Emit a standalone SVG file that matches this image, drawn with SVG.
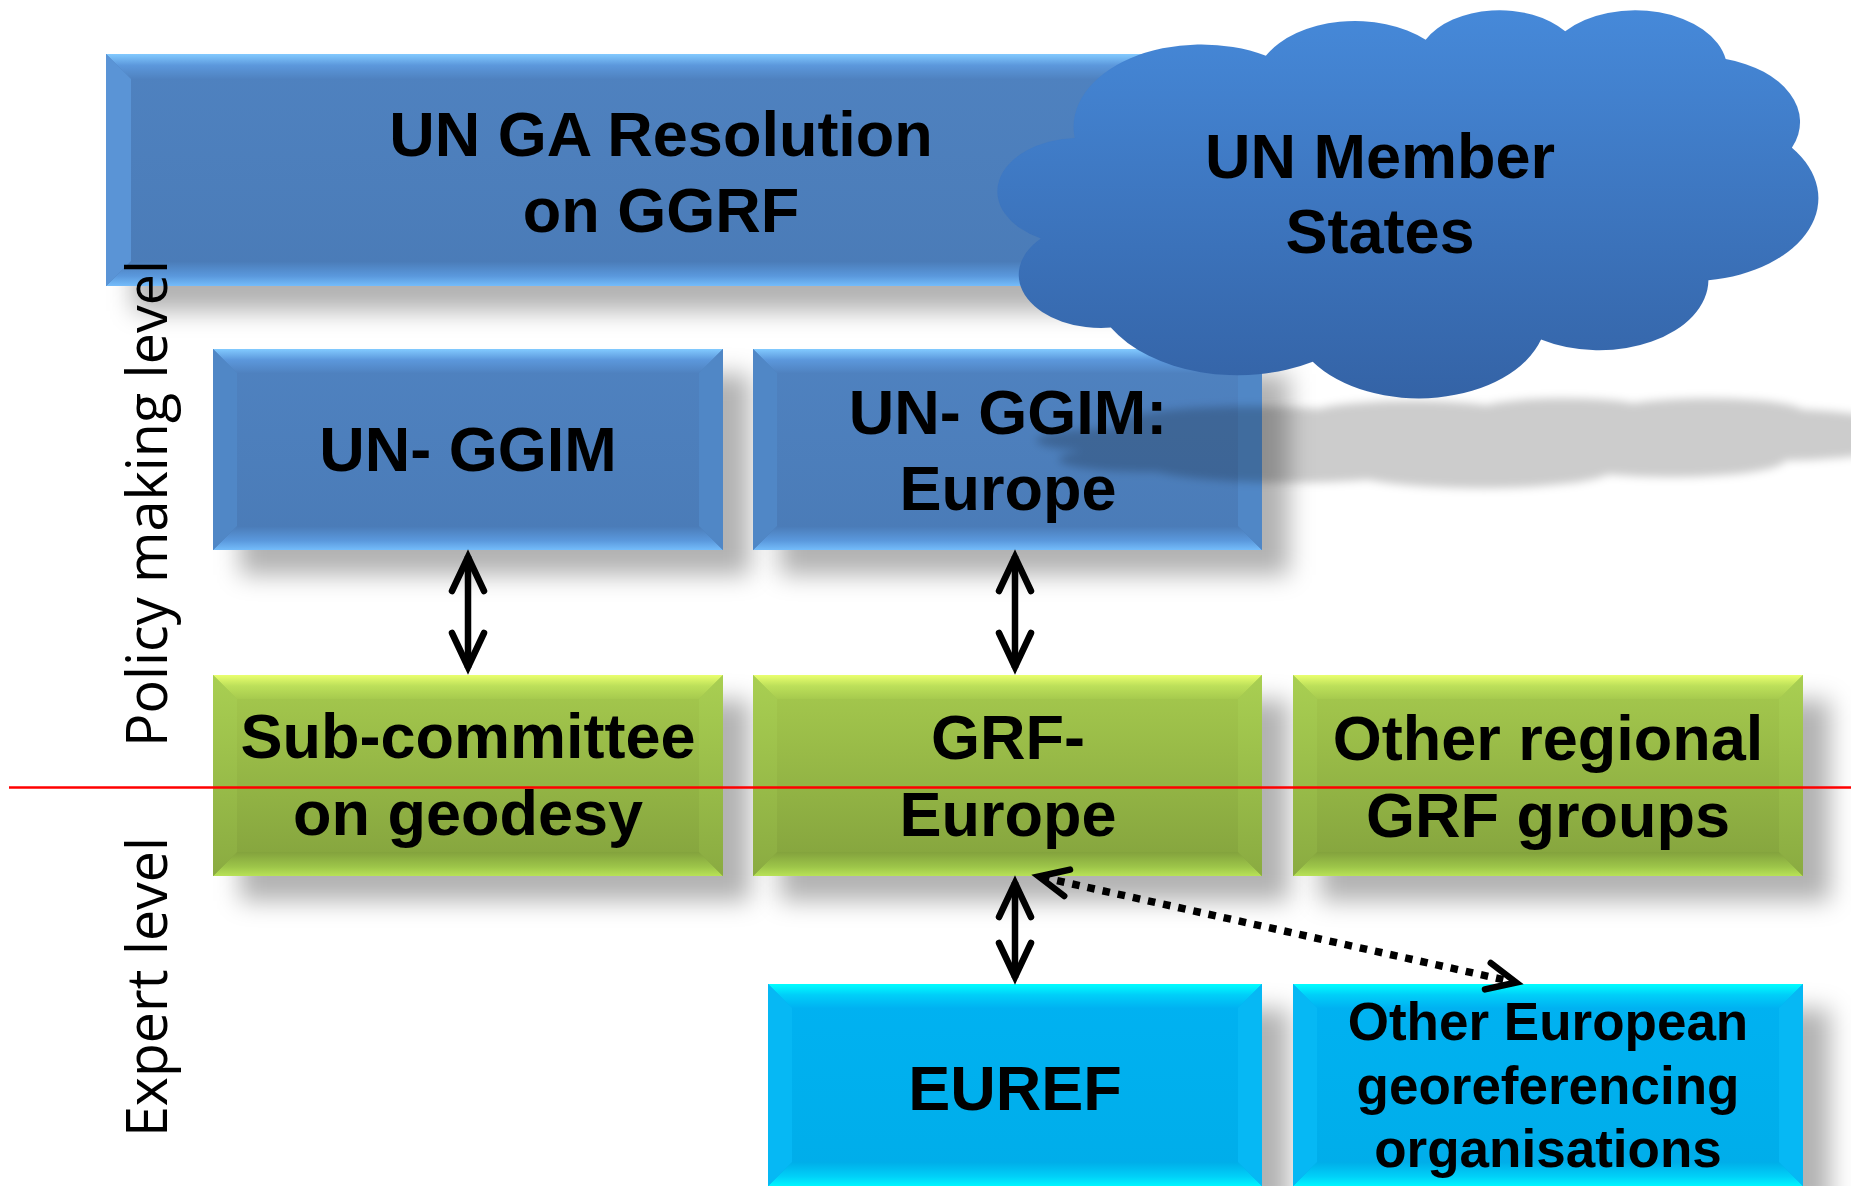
<svg xmlns="http://www.w3.org/2000/svg" xmlns:xlink="http://www.w3.org/1999/xlink" width="1851" height="1186" viewBox="0 0 1851 1186">
<defs>
  <linearGradient id="bFace" x1="0" y1="0" x2="0" y2="1"><stop offset="0" stop-color="#4f82c0"/><stop offset="1" stop-color="#4a7bb7"/></linearGradient>
  <linearGradient id="bTop" x1="0" y1="0" x2="0" y2="1"><stop offset="0" stop-color="#82caff"/><stop offset="0.45" stop-color="#5c98dc"/><stop offset="1" stop-color="#4f82c0"/></linearGradient>
  <linearGradient id="bBot" x1="0" y1="0" x2="0" y2="1"><stop offset="0" stop-color="#4a7bb7"/><stop offset="0.6" stop-color="#5a98dc"/><stop offset="1" stop-color="#74bcfa"/></linearGradient>
  <linearGradient id="gFace" x1="0" y1="0" x2="0" y2="1"><stop offset="0" stop-color="#a6ca4e"/><stop offset="1" stop-color="#83a23d"/></linearGradient>
  <linearGradient id="gTop" x1="0" y1="0" x2="0" y2="1"><stop offset="0" stop-color="#eaff6e"/><stop offset="0.45" stop-color="#bde05a"/><stop offset="1" stop-color="#a6ca4e"/></linearGradient>
  <linearGradient id="gBot" x1="0" y1="0" x2="0" y2="1"><stop offset="0" stop-color="#83a23d"/><stop offset="0.6" stop-color="#9cc449"/><stop offset="1" stop-color="#b8e256"/></linearGradient>
  <linearGradient id="gSide" x1="0" y1="0" x2="0" y2="1"><stop offset="0" stop-color="#a9cf52"/><stop offset="1" stop-color="#8aab41"/></linearGradient>
  <linearGradient id="cFace" x1="0" y1="0" x2="0" y2="1"><stop offset="0" stop-color="#00b2f2"/><stop offset="1" stop-color="#00ade9"/></linearGradient>
  <linearGradient id="cTop" x1="0" y1="0" x2="0" y2="1"><stop offset="0" stop-color="#00ffff"/><stop offset="0.45" stop-color="#00cff9"/><stop offset="1" stop-color="#00b2f2"/></linearGradient>
  <linearGradient id="cBot" x1="0" y1="0" x2="0" y2="1"><stop offset="0" stop-color="#00ade9"/><stop offset="0.6" stop-color="#00d0f8"/><stop offset="1" stop-color="#00f6ff"/></linearGradient>
  <linearGradient id="cloudFill" x1="0" y1="0" x2="0" y2="1"><stop offset="0" stop-color="#4689d9"/><stop offset="1" stop-color="#3463a6"/></linearGradient>
  <filter id="sh" x="-20%" y="-40%" width="140%" height="180%"><feGaussianBlur stdDeviation="12"/></filter>
  <filter id="csh" x="-10%" y="-60%" width="120%" height="220%"><feGaussianBlur stdDeviation="4"/></filter>
  <path id="cloudPath" d="M 3900 14370 A 6753 9190 0 0 1 14005 5202 A 5333 7267 0 0 1 22455 3430 A 4365 5945 0 0 1 29833 2479 A 4857 6595 0 0 1 38318 5574 A 5333 7273 0 0 1 41819 15458 A 6775 9220 0 0 1 37405 30201 A 5785 7867 0 0 1 28557 36811 A 6752 9215 0 0 1 16483 39266 A 7720 10543 0 0 1 5806 35477 A 4360 5918 0 0 1 2115 25555 A 4345 5945 0 0 1 3900 14370 Z"/>
  <style>
    .bf{fill:url(#bFace)} .bt{fill:url(#bTop)} .bb{fill:url(#bBot)} .bs{fill:#5087c6}
    .gf{fill:url(#gFace)} .gt{fill:url(#gTop)} .gb{fill:url(#gBot)} .gs{fill:url(#gSide)}
    .cf{fill:url(#cFace)} .ct{fill:url(#cTop)} .cb{fill:url(#cBot)} .cs{fill:#06b8f4}
    .shadow{fill:#000;fill-opacity:0.3;filter:url(#sh)}
    .lbl{font-family:"Liberation Sans",Arial,sans-serif;font-weight:bold;font-size:63px;fill:#000;text-anchor:middle}
    .lbls{font-size:53px}
    .side{font-family:"Open Sans","Noto Sans",sans-serif;font-size:56px;fill:#000}
    .conn{fill:none;stroke:#000;stroke-width:6.5}
    .dot{fill:none;stroke:#000;stroke-width:7.5;stroke-dasharray:7.5 8}
    .head{fill:none;stroke:#000;stroke-width:6.5;stroke-linecap:round;stroke-linejoin:miter;stroke-miterlimit:10}
  </style>
</defs>
<rect width="1851" height="1186" fill="#fff"/>

<g id="shadows">
  <rect class="shadow" x="133" y="79" width="1110" height="232"/>
  <rect class="shadow" x="240" y="374" width="510" height="201"/>
  <rect class="shadow" x="780" y="374" width="509" height="201"/>
  <rect class="shadow" x="240" y="700" width="510" height="201"/>
  <rect class="shadow" x="780" y="700" width="509" height="201"/>
  <rect class="shadow" x="1320" y="700" width="510" height="201"/>
  <rect class="shadow" x="795" y="1009" width="494" height="202"/>
  <rect class="shadow" x="1320" y="1009" width="510" height="202"/>
</g>

<g id="node-un-ga-resolution">
  <rect class="bf" x="106" y="54" width="1110" height="232"/>
  <polygon class="bt" points="106,54 1216,54 1191,79 131,79"/>
  <polygon class="bb" points="106,286 1216,286 1191,261 131,261"/>
  <polygon class="bs" points="106,54 131,79 131,261 106,286" fill="#5b95d6" style="fill:#5a94d6"/>
  <polygon class="bs" points="1216,54 1191,79 1191,261 1216,286"/>
  <text class="lbl" x="661" y="156">UN GA Resolution</text>
  <text class="lbl" x="661" y="232">on GGRF</text>
</g>

<g id="node-un-ggim">
  <rect class="bf" x="213" y="349" width="510" height="201"/>
  <polygon class="bt" points="213,349 723,349 699,373 237,373"/>
  <polygon class="bb" points="213,550 723,550 699,526 237,526"/>
  <polygon class="bs" points="213,349 237,373 237,526 213,550"/>
  <polygon class="bs" points="723,349 699,373 699,526 723,550"/>
  <text class="lbl" x="468" y="471">UN- GGIM</text>
</g>

<g id="node-un-ggim-europe">
  <rect class="bf" x="753" y="349" width="509" height="201"/>
  <polygon class="bt" points="753,349 1262,349 1238,373 777,373"/>
  <polygon class="bb" points="753,550 1262,550 1238,526 777,526"/>
  <polygon class="bs" points="753,349 777,373 777,526 753,550"/>
  <polygon class="bs" points="1262,349 1238,373 1238,526 1262,550"/>
  <text class="lbl" x="1008" y="434">UN- GGIM:</text>
  <text class="lbl" x="1008" y="510">Europe</text>
</g>

<g id="node-sub-committee">
  <rect class="gf" x="213" y="675" width="510" height="201"/>
  <polygon class="gt" points="213,675 723,675 699,699 237,699"/>
  <polygon class="gb" points="213,876 723,876 699,852 237,852"/>
  <polygon class="gs" points="213,675 237,699 237,852 213,876"/>
  <polygon class="gs" points="723,675 699,699 699,852 723,876"/>
  <text class="lbl" x="468" y="758">Sub-committee</text>
  <text class="lbl" x="468" y="835">on geodesy</text>
</g>

<g id="node-grf-europe">
  <rect class="gf" x="753" y="675" width="509" height="201"/>
  <polygon class="gt" points="753,675 1262,675 1238,699 777,699"/>
  <polygon class="gb" points="753,876 1262,876 1238,852 777,852"/>
  <polygon class="gs" points="753,675 777,699 777,852 753,876"/>
  <polygon class="gs" points="1262,675 1238,699 1238,852 1262,876"/>
  <text class="lbl" x="1008" y="759">GRF-</text>
  <text class="lbl" x="1008" y="836">Europe</text>
</g>

<g id="node-other-regional">
  <rect class="gf" x="1293" y="675" width="510" height="201"/>
  <polygon class="gt" points="1293,675 1803,675 1779,699 1317,699"/>
  <polygon class="gb" points="1293,876 1803,876 1779,852 1317,852"/>
  <polygon class="gs" points="1293,675 1317,699 1317,852 1293,876"/>
  <polygon class="gs" points="1803,675 1779,699 1779,852 1803,876"/>
  <text class="lbl" x="1548" y="760">Other regional</text>
  <text class="lbl" x="1548" y="837">GRF groups</text>
</g>

<g id="node-euref">
  <rect class="cf" x="768" y="984" width="494" height="202"/>
  <polygon class="ct" points="768,984 1262,984 1238,1008 792,1008"/>
  <polygon class="cb" points="768,1186 1262,1186 1238,1162 792,1162"/>
  <polygon class="cs" points="768,984 792,1008 792,1162 768,1186"/>
  <polygon class="cs" points="1262,984 1238,1008 1238,1162 1262,1186"/>
  <text class="lbl" x="1015" y="1110">EUREF</text>
</g>

<g id="node-other-european">
  <rect class="cf" x="1293" y="984" width="510" height="202"/>
  <polygon class="ct" points="1293,984 1803,984 1779,1008 1317,1008"/>
  <polygon class="cb" points="1293,1186 1803,1186 1779,1162 1317,1162"/>
  <polygon class="cs" points="1293,984 1317,1008 1317,1162 1293,1186"/>
  <polygon class="cs" points="1803,984 1779,1008 1779,1162 1803,1186"/>
  <text class="lbl lbls" x="1548" y="1040">Other European</text>
  <text class="lbl lbls" x="1548" y="1104">georeferencing</text>
  <text class="lbl lbls" x="1548" y="1167">organisations</text>
</g>

<g id="cloud-shadow" filter="url(#csh)" fill="#000" fill-opacity="0.2">
  <use xlink:href="#cloudPath" href="#cloudPath" transform="translate(1040,398) scale(0.0199,0.00208)"/>
</g>

<g id="node-un-member-states">
  <use xlink:href="#cloudPath" href="#cloudPath" transform="translate(1001,9) scale(0.018912,0.008981)" fill="url(#cloudFill)" stroke="#2f5e9e" stroke-width="2" vector-effect="non-scaling-stroke"/>
  <text class="lbl" x="1380" y="178">UN Member</text>
  <text class="lbl" x="1380" y="253">States</text>
</g>

<line id="level-divider" x1="9" y1="787.5" x2="1851" y2="787.5" stroke="#ff0000" stroke-width="2.5"/>

<g id="connectors">
  <line class="conn" x1="468" y1="556" x2="468" y2="668"/>
  <polyline class="head" points="452,591 468,557 484,591"/>
  <polyline class="head" points="452,633 468,667 484,633"/>

  <line class="conn" x1="1015" y1="556" x2="1015" y2="668"/>
  <polyline class="head" points="999,591 1015,557 1031,591"/>
  <polyline class="head" points="999,633 1015,667 1031,633"/>

  <line class="conn" x1="1015" y1="882" x2="1015" y2="978"/>
  <polyline class="head" points="999,917 1015,883 1031,917"/>
  <polyline class="head" points="999,943 1015,977 1031,943"/>

  <line class="dot" x1="1042" y1="877.3" x2="1513" y2="981.8"/>
  <polyline class="head" points="1070,869.6 1038.8,876.5 1064.2,896"/>
  <polyline class="head" points="1490.8,963 1516.2,982.5 1485,989.4"/>
</g>

<g id="level-labels">
  <text class="side" transform="translate(167,747) rotate(-90)" textLength="487" lengthAdjust="spacingAndGlyphs">Policy making level</text>
  <text class="side" transform="translate(167,1137) rotate(-90)" textLength="300" lengthAdjust="spacingAndGlyphs">Expert level</text>
</g>
</svg>
